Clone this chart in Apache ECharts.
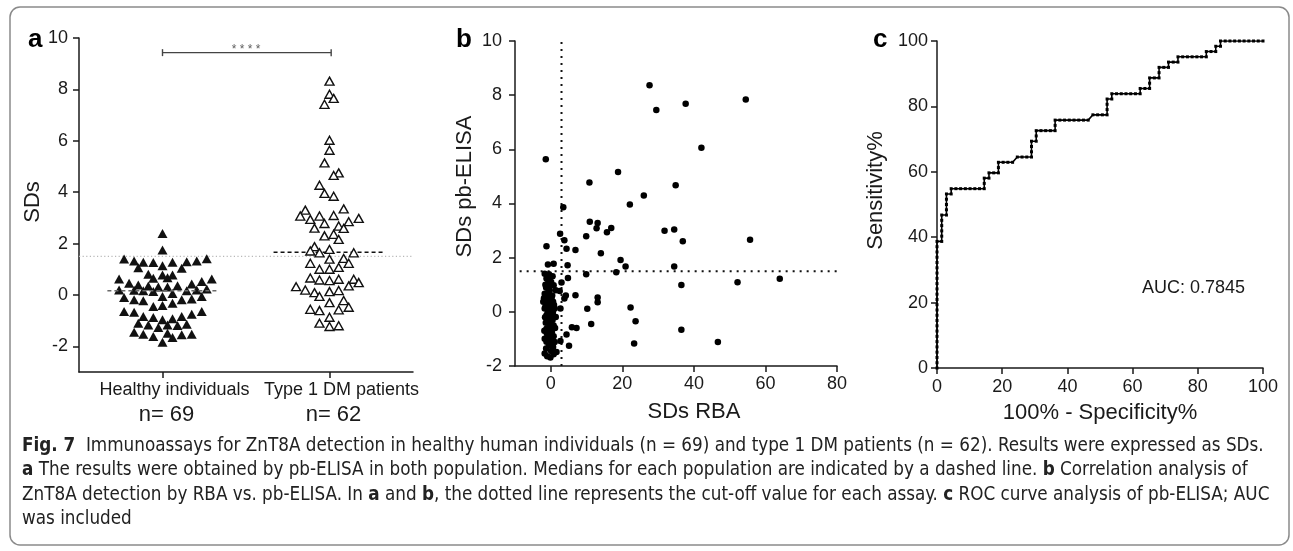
<!DOCTYPE html>
<html>
<head>
<meta charset="utf-8">
<script src="https://cdn.jsdelivr.net/npm/echarts@6/dist/echarts.min.js"></script>
<style>
html, body { margin: 0; padding: 0; background: #fff; }
#main { width: 1293px; height: 551px; }
</style>
</head>
<body>
<div id="main"></div>
<script>
// ---- panel a: pb-ELISA SDs per group, x = jitter position (group 1 at 1, group 2 at 3)
var groupNames = ['Healthy individuals', 'Type 1 DM patients'];
var groupCounts = ['n= 69', 'n= 62'];
var groupPos = [1, 3];
var healthy = [
  [1.00, 2.39], [1.00, 1.75],
  [0.54, 1.40], [0.66, 1.32], [0.77, 1.27], [0.89, 1.26], [1.00, 1.14], [1.12, 1.27], [1.29, 1.29], [1.41, 1.32], [1.53, 1.41],
  [0.71, 1.06], [1.23, 1.04],
  [0.83, 0.80], [1.00, 0.78], [1.12, 0.78],
  [0.89, 0.65], [1.06, 0.67],
  [0.48, 0.62], [1.59, 0.62],
  [0.60, 0.45], [0.71, 0.39], [0.83, 0.35], [0.95, 0.31], [1.06, 0.31], [1.18, 0.36], [1.35, 0.43], [1.47, 0.52],
  [0.48, 0.19], [0.66, 0.18], [0.77, 0.16], [0.89, 0.13], [1.29, 0.16], [1.41, 0.19], [1.53, 0.23],
  [0.54, -0.10], [0.66, -0.19], [0.77, -0.23], [1.00, -0.06], [1.12, 0.06], [1.23, -0.19], [1.35, -0.16], [1.47, -0.06],
  [0.89, -0.45], [1.00, -0.41], [1.12, -0.32],
  [0.54, -0.65], [0.66, -0.67], [1.35, -0.75], [1.47, -0.65],
  [0.77, -0.84], [0.89, -0.88], [1.00, -0.97], [1.12, -0.93], [1.23, -0.84],
  [0.71, -1.10], [0.83, -1.17], [0.95, -1.27], [1.06, -1.17], [1.18, -1.19], [1.29, -1.14],
  [0.66, -1.45], [0.77, -1.53], [0.89, -1.62], [1.06, -1.49], [1.12, -1.66], [1.23, -1.55], [1.35, -1.53],
  [1.00, -1.84]
];
var patients = [
  [3.00, 8.32], [3.00, 7.81], [3.05, 7.65], [2.94, 7.42],
  [3.00, 6.02], [3.00, 5.63], [2.94, 5.14], [3.11, 4.75], [3.05, 4.65], [2.88, 4.27], [2.94, 3.95], [3.05, 3.84],
  [2.71, 3.30], [2.65, 3.07], [3.17, 3.35], [2.77, 2.94], [2.88, 3.07], [3.05, 3.09], [3.35, 2.98],
  [2.94, 2.78], [3.23, 2.85], [2.82, 2.60], [3.11, 2.68], [3.17, 2.59], [2.94, 2.30], [3.05, 2.36], [3.11, 2.16],
  [2.82, 1.88], [2.77, 1.71], [2.88, 1.64], [3.00, 1.77], [3.29, 1.64], [3.17, 1.42], [3.23, 1.23], [2.77, 1.23],
  [3.00, 1.39], [2.88, 1.00], [3.00, 1.00], [3.11, 1.07],
  [2.77, 0.66], [2.88, 0.58], [3.00, 0.56], [3.11, 0.61], [3.29, 0.61], [3.35, 0.48], [3.23, 0.35],
  [2.60, 0.32], [2.71, 0.19], [2.82, 0.09], [2.88, -0.06], [3.00, 0.13], [3.11, 0.17],
  [3.00, -0.30], [3.17, -0.22], [3.23, -0.48], [2.77, -0.56], [2.88, -0.61], [3.11, -0.58],
  [3.00, -0.87], [2.88, -1.10], [3.00, -1.23], [3.11, -1.20]
];
var medians = [0.16, 1.66];
var elisaCutoff = 1.5;
var rbaCutoff = 3;
var significance = '* * * *';

// ---- panel b: RBA SDs (x) vs pb-ELISA SDs (y)
var rbaVsElisa = [
  [27.6, 8.37], [54.5, 7.84], [37.7, 7.68], [29.5, 7.45], [42.1, 6.06], [-1.4, 5.63], [18.8, 5.16],
  [10.8, 4.78], [34.9, 4.67], [26.0, 4.30], [22.1, 3.96], [3.5, 3.86], [10.9, 3.33], [13.1, 3.28],
  [12.8, 3.09], [16.9, 3.10], [15.7, 2.94], [31.8, 2.99], [34.5, 3.04], [2.6, 2.88], [9.9, 2.79],
  [55.7, 2.66], [36.9, 2.61], [3.8, 2.64], [-1.2, 2.42], [4.4, 2.33], [6.9, 2.28], [14.0, 2.16],
  [19.5, 1.91], [20.9, 1.67], [34.5, 1.67], [-0.8, 1.75], [0.8, 1.78], [4.7, 1.72], [18.3, 1.46],
  [9.9, 1.39], [4.8, 1.25], [52.2, 1.09], [64.0, 1.22], [36.5, 0.99], [6.9, 0.61], [4.2, 0.60],
  [13.1, 0.53], [13.1, 0.35], [10.2, 0.11], [22.3, 0.16], [11.3, -0.45], [23.7, -0.35], [5.9, -0.57],
  [7.2, -0.60], [36.5, -0.66], [4.4, -0.84], [46.7, -1.11], [23.3, -1.17], [5.1, -1.25], [2.7, -1.08],
  [3.8, 0.49], [3.0, 1.08],
  [-1.7, 1.41], [-0.5, 1.39], [0.5, 1.31], [-1.2, 1.23], [0.8, 0.98], [-0.7, 1.07], [-0.3, 0.80],
  [1.4, 0.80], [2.5, 0.77], [-1.7, 0.67], [-0.7, 0.55], [0.2, 0.49], [-2.1, 0.37], [-1.2, 0.30],
  [-0.3, 0.28], [0.65, 0.37], [-1.7, 0.12], [-0.7, 0.12], [0.2, 0.06], [1.1, 0.12], [2.7, 0.12],
  [-1.2, -0.13], [-0.3, -0.19], [0.65, -0.13], [1.4, -0.19], [-0.7, -0.37], [0.2, -0.46], [-1.2, -0.62],
  [-0.1, -0.68], [0.8, -0.50], [-0.7, -0.86], [-1.7, -0.99], [0.2, -0.93], [1.1, -1.11], [-0.5, -1.23],
  [0.65, -1.30], [1.6, -1.48], [-1.7, -1.54], [-1.0, -1.64], [-0.1, -1.69], [0.8, -1.57],
  [-1.9, 0.50], [-1.5, 0.20], [-1.0, 0.45], [-0.5, 0.35], [0.0, 0.20], [0.4, 0.60], [-1.3, 0.90],
  [-0.9, 0.70], [-1.6, -0.20], [-0.9, -0.05], [-0.2, 0.00], [0.5, -0.30], [-1.4, -0.40], [-0.4, -0.55],
  [0.3, -0.75], [-1.1, -0.80], [-0.5, -1.05], [0.4, -1.15], [-1.3, -1.35], [0.1, -1.45], [-0.8, 1.25],
  [0.1, 1.10], [-1.5, 1.00], [0.9, 0.25], [1.2, -0.60], [-1.8, -0.70], [-0.6, 0.90], [0.6, 0.00],
  [-1.2, -1.10], [0.8, -0.90]
];

// ---- panel c: ROC of pb-ELISA, [false positives, true positives] at each cut-off
var nHealthy = 69;
var nPatients = 62;
var rocCounts = [
  [0, 0], [0, 1], [0, 2], [0, 3], [0, 4], [0, 5], [0, 6], [0, 7], [0, 8], [0, 9], [0, 10], [0, 11], [0, 12],
  [0, 13], [0, 14], [0, 15], [0, 16], [0, 17], [0, 18], [0, 19], [0, 20], [0, 21], [0, 22], [0, 23], [0, 24],
  [1, 24], [1, 25], [1, 26], [1, 27], [1, 28], [1, 29],
  [2, 29], [2, 30], [2, 31], [2, 32], [2, 33],
  [3, 33], [3, 34],
  [4, 34], [5, 34], [6, 34], [7, 34], [8, 34], [9, 34], [10, 34], [10, 35], [10, 36],
  [11, 36], [11, 37], [12, 37], [13, 37], [13, 38], [13, 39],
  [14, 39], [15, 39], [16, 39], [17, 40], [18, 40], [19, 40], [20, 40], [20, 41], [20, 42], [20, 43],
  [21, 43], [21, 44], [21, 45], [22, 45], [23, 45], [24, 45], [25, 45], [25, 46], [25, 47],
  [26, 47], [27, 47], [28, 47], [29, 47], [30, 47], [31, 47], [32, 47], [33, 48], [34, 48], [35, 48],
  [36, 48], [36, 49], [36, 50], [36, 51],
  [37, 51], [37, 52], [38, 52], [39, 52], [40, 52], [41, 52], [42, 52], [43, 52], [43, 53], [44, 53],
  [45, 53], [45, 54], [45, 55],
  [46, 55], [47, 55], [47, 56], [47, 57], [48, 57], [49, 57], [49, 58], [50, 58], [51, 58], [51, 59],
  [52, 59], [53, 59], [54, 59], [55, 59], [56, 59], [57, 59], [57, 60], [58, 60], [59, 60], [59, 61],
  [60, 61], [60, 62],
  [61, 62], [62, 62], [63, 62], [64, 62], [65, 62], [66, 62], [67, 62], [68, 62], [69, 62]
];
var aucText = 'AUC: 0.7845';

var captionLines = [
  '{b|Fig. 7}  Immunoassays for ZnT8A detection in healthy human individuals (n = 69) and type 1 DM patients (n = 62). Results were expressed as SDs.',
  '{b|a} The results were obtained by pb-ELISA in both population. Medians for each population are indicated by a dashed line. {b|b} Correlation analysis of',
  'ZnT8A detection by RBA vs. pb-ELISA. In {b|a} and {b|b}, the dotted line represents the cut-off value for each assay. {b|c} ROC curve analysis of pb-ELISA; AUC',
  'was included'
];

var rocData = rocCounts.map(function (p) {
  return [p[0] / nHealthy * 100, p[1] / nPatients * 100];
});

var FONT = 'Liberation Sans, Arial, sans-serif';
var CAP_FONT = '"Liberation Sans Narrow", "DejaVu Sans Condensed", ' + FONT;
var INK = '#1a1a1a';
var axisLine = { show: true, onZero: false, lineStyle: { color: INK, width: 1.5 } };
var axisTick = { show: true, length: 6, lineStyle: { color: INK, width: 1.5 } };
var tickLabel = { color: INK, fontFamily: FONT, fontSize: 18 };
var nameStyle = { color: INK, fontFamily: FONT, fontSize: 22 };

// group labels of panel a (one axis per label so neither gets hidden)
function groupLabel(i) {
  return {
    customValues: [groupPos[i]], margin: 7,
    formatter: function () {
      return '{g|' + groupNames[i] + '}\n{n|' + groupCounts[i] + '}';
    },
    rich: {
      g: { fontFamily: FONT, fontSize: 18, color: INK, lineHeight: 22, padding: [0, 0, 0, 24] },
      n: { fontFamily: FONT, fontSize: 22, color: INK, lineHeight: 28, padding: [0, 0, 0, 8] }
    }
  };
}

var myChart = echarts.init(document.getElementById('main'));

var option = {
  animation: false,
  backgroundColor: '#fff',
  grid: [
    { left: 79, top: 38, width: 334, height: 334, containLabel: false, outerBoundsMode: 'none' },
    { left: 515, top: 41, width: 322, height: 325, containLabel: false, outerBoundsMode: 'none' },
    { left: 937, top: 41, width: 326, height: 327, containLabel: false, outerBoundsMode: 'none' }
  ],
  xAxis: [
    {
      gridIndex: 0, type: 'value', min: 0, max: 4, position: 'bottom',
      axisLine: axisLine, splitLine: { show: false },
      axisTick: { show: true, length: 6, lineStyle: axisTick.lineStyle, customValues: groupPos },
      axisLabel: groupLabel(0)
    },
    {
      gridIndex: 1, type: 'value', min: -10, max: 80,
      name: 'SDs RBA', nameLocation: 'middle', nameGap: 35,
      nameTextStyle: Object.assign({ padding: [0, 0, 0, 36] }, nameStyle),
      axisLine: axisLine, splitLine: { show: false },
      axisTick: { show: true, length: 6, lineStyle: axisTick.lineStyle, customValues: [0, 20, 40, 60, 80] },
      axisLabel: Object.assign({ customValues: [0, 20, 40, 60, 80], margin: 9 }, tickLabel)
    },
    {
      gridIndex: 2, type: 'value', min: 0, max: 100, interval: 20,
      name: '100% - Specificity%', nameLocation: 'middle', nameGap: 34,
      nameTextStyle: nameStyle,
      axisLine: axisLine, axisTick: axisTick, splitLine: { show: false },
      axisLabel: Object.assign({ margin: 10 }, tickLabel)
    },
    {
      gridIndex: 0, type: 'value', min: 0, max: 4, position: 'bottom',
      axisLine: { show: false }, axisTick: { show: false }, splitLine: { show: false },
      axisLabel: groupLabel(1)
    }
  ],
  yAxis: [
    {
      gridIndex: 0, type: 'value', min: -3, max: 10,
      name: 'SDs', nameLocation: 'middle', nameGap: 32,
      nameTextStyle: Object.assign({ padding: [0, 0, 0, 6] }, nameStyle),
      axisLine: axisLine, splitLine: { show: false },
      axisTick: { show: true, length: 6, lineStyle: axisTick.lineStyle, customValues: [-2, 0, 2, 4, 6, 8, 10] },
      axisLabel: Object.assign({ customValues: [-2, 0, 2, 4, 6, 8, 10], margin: 11 }, tickLabel)
    },
    {
      gridIndex: 1, type: 'value', min: -2, max: 10, interval: 2,
      name: 'SDs pb-ELISA', nameLocation: 'middle', nameGap: 39,
      nameTextStyle: Object.assign({ padding: [0, 0, 0, 34] }, nameStyle),
      axisLine: axisLine, axisTick: axisTick, splitLine: { show: false },
      axisLabel: Object.assign({ margin: 13 }, tickLabel)
    },
    {
      gridIndex: 2, type: 'value', min: 0, max: 100, interval: 20,
      name: 'Sensitivity%', nameLocation: 'middle', nameGap: 50,
      nameTextStyle: Object.assign({ padding: [0, 0, 0, 28] }, nameStyle),
      axisLine: axisLine, axisTick: axisTick, splitLine: { show: false },
      axisLabel: Object.assign({ margin: 9 }, tickLabel)
    }
  ],
  series: [
    // panel a: cut-off line
    {
      type: 'line', xAxisIndex: 0, yAxisIndex: 0, symbol: 'none', silent: true, z: 1,
      data: [[0, elisaCutoff], [4, elisaCutoff]],
      lineStyle: { color: '#b8b8b8', width: 1.2, type: [1.2, 2.4] }
    },
    {
      type: 'scatter', xAxisIndex: 0, yAxisIndex: 0, z: 3,
      symbol: 'triangle', symbolSize: [10, 9],
      itemStyle: { color: '#111', opacity: 1 },
      data: healthy
    },
    {
      type: 'scatter', xAxisIndex: 0, yAxisIndex: 0, z: 3,
      symbol: 'triangle', symbolSize: [9, 8],
      itemStyle: { color: '#fff', borderColor: '#111', borderWidth: 1.4, opacity: 1 },
      data: patients
    },
    // medians
    {
      type: 'line', xAxisIndex: 0, yAxisIndex: 0, symbol: 'none', silent: true, z: 4,
      data: [[0.34, medians[0]], [1.66, medians[0]]],
      lineStyle: { color: '#6a6a6a', width: 1.6, type: [4, 3] }
    },
    {
      type: 'line', xAxisIndex: 0, yAxisIndex: 0, symbol: 'none', silent: true, z: 2,
      data: [[2.33, medians[1]], [3.66, medians[1]]],
      lineStyle: { color: '#111', width: 1.6, type: [4, 3] }
    },
    // significance bracket
    {
      type: 'line', xAxisIndex: 0, yAxisIndex: 0, silent: true, z: 4,
      symbol: 'rect', symbolSize: [1.4, 7],
      itemStyle: { color: '#444' },
      data: [[groupPos[0], 9.43], [groupPos[1] + 0.02, 9.43]],
      lineStyle: { color: '#444', width: 1.2 }
    },
    {
      type: 'scatter', xAxisIndex: 0, yAxisIndex: 0, silent: true, symbolSize: 0,
      data: [[2, 9.43]],
      label: { show: true, formatter: significance, position: 'top', distance: -3, color: '#333', fontFamily: FONT, fontSize: 12 }
    },
    // panel b
    {
      type: 'line', xAxisIndex: 1, yAxisIndex: 1, symbol: 'none', silent: true, z: 1,
      data: [[rbaCutoff, -2], [rbaCutoff, 10]],
      lineStyle: { color: '#111', width: 2, type: [2, 5] }
    },
    {
      type: 'line', xAxisIndex: 1, yAxisIndex: 1, symbol: 'none', silent: true, z: 1,
      data: [[-8.7, elisaCutoff], [80, elisaCutoff]],
      lineStyle: { color: '#111', width: 2, type: [2, 5] }
    },
    {
      type: 'scatter', xAxisIndex: 1, yAxisIndex: 1, z: 3,
      symbol: 'circle', symbolSize: 6.5,
      itemStyle: { color: '#000', opacity: 1 },
      data: rbaVsElisa
    },
    // panel c
    {
      type: 'line', xAxisIndex: 2, yAxisIndex: 2, z: 3,
      symbol: 'rect', symbolSize: 3, showAllSymbol: true,
      itemStyle: { color: '#000' },
      lineStyle: { color: '#000', width: 1.6 },
      data: rocData
    }
  ],
  graphic: [
    {
      type: 'rect', silent: true, z: -1,
      shape: { x: 10, y: 7, width: 1279, height: 538, r: 10 },
      style: { fill: 'none', stroke: '#8a8a8a', lineWidth: 1.5 }
    },
    { type: 'text', left: 28, top: 27, style: { text: 'a', font: 'bold 26px ' + FONT, fill: '#000' } },
    { type: 'text', left: 456, top: 27, style: { text: 'b', font: 'bold 26px ' + FONT, fill: '#000' } },
    { type: 'text', left: 873, top: 27, style: { text: 'c', font: 'bold 26px ' + FONT, fill: '#000' } },
    {
      type: 'text', x: 1142, y: 288,
      style: { text: aucText, font: '18px ' + FONT, fill: INK, textAlign: 'left', textVerticalAlign: 'middle' }
    }
  ].concat(captionLines.map(function (line, i) {
    return {
      type: 'text', x: 22, y: 446 + i * 24.4,
      style: {
        text: line, textAlign: 'left', textVerticalAlign: 'middle',
        font: '18.7px ' + CAP_FONT, fill: '#222',
        rich: { b: { fontWeight: 'bold', fontSize: 18.7, fontFamily: CAP_FONT } }
      }
    };
  }))
};

myChart.clear();
myChart.setOption(option);
</script>
</body>
</html>
